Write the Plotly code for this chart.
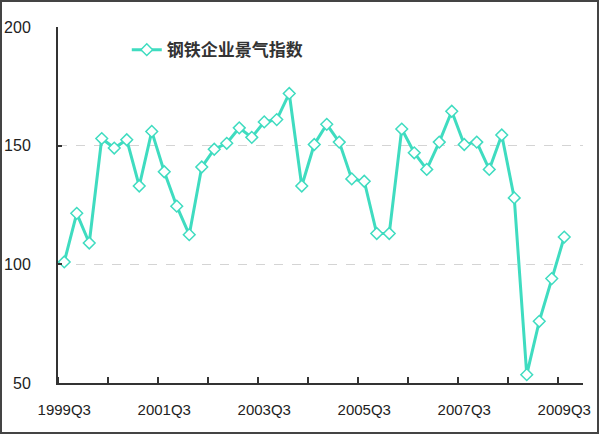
import plotly.graph_objects as go

quarters = []
for yr in range(1999, 2010):
    for q in range(1, 5):
        quarters.append(f"{yr}Q{q}")
quarters = quarters[2:2 + 41]  # 1999Q3 .. 2009Q3

values = [101, 121.5, 109, 153, 149, 152.5, 133, 156, 139, 124.5,
          112.5, 141, 148.5, 151, 157.5, 153.5, 160, 161, 172, 133,
          150.5, 159, 151.5, 136, 135, 113, 113, 157, 147, 140,
          151.5, 164.5, 150.5, 151.5, 140, 154.5, 128, 53.5, 76, 94, 111.5]

label_quarters = ["1999Q3", "2001Q3", "2003Q3", "2005Q3", "2007Q3", "2009Q3"]
series_name = "钢铁企业景气指数"

x_idx = list(range(len(quarters)))
tick_idx = [quarters.index(q) for q in label_quarters]

color = "#3fdcc0"
fig = go.Figure()
fig.add_trace(go.Scatter(
    x=x_idx, y=values, mode="lines+markers", name=series_name,
    line=dict(color=color, width=3),
    marker=dict(symbol="diamond", size=9, color="white",
                line=dict(color=color, width=1.5)),
    customdata=quarters,
))

fam = "Liberation Sans"
fig.update_layout(
    width=600, height=435,
    margin=dict(l=58, r=17, t=27, b=52, autoexpand=False),
    paper_bgcolor="white", plot_bgcolor="white",
    showlegend=True,
    legend=dict(x=0.131, y=0.935, xanchor="left", yanchor="middle",
                bgcolor="rgba(0,0,0,0)",
                font=dict(family="Noto Sans CJK SC", size=17, color="#333", weight="bold")),
    xaxis=dict(range=[-0.5, len(quarters) + 0.5], tickmode="array",
               tickvals=tick_idx, ticktext=label_quarters, automargin=False,
               ticks="", showgrid=False, zeroline=False,
               showline=True, linecolor="#333", linewidth=2,
               tickfont=dict(family=fam, size=15, color="#222"), ticklabelstandoff=12,
               minor=dict(ticks="inside", ticklen=6, tickcolor="#333", tickwidth=2,
                          tick0=-0.5, dtick=4, showgrid=False)),
    yaxis=dict(range=[50, 200], dtick=50, tick0=50, automargin=False,
               ticks="inside", ticklen=4, tickcolor="#333", tickwidth=2,
               showline=True, linecolor="#333", linewidth=2,
               showgrid=True, gridcolor="#d4d4d4", griddash="dash", gridwidth=1,
               zeroline=False, tickfont=dict(family=fam, size=16, color="#222"),
               ticklabelstandoff=22),
    shapes=[dict(type="rect", xref="paper", yref="paper",
                 x0=-57 / 525, x1=540 / 525, y0=-50 / 356, y1=382 / 356,
                 line=dict(color="#444", width=2), fillcolor="rgba(0,0,0,0)")],
)

fig.write_html("out.html", config={"displayModeBar": False},
               post_script="document.body.style.margin='0';document.body.style.padding='0';")
